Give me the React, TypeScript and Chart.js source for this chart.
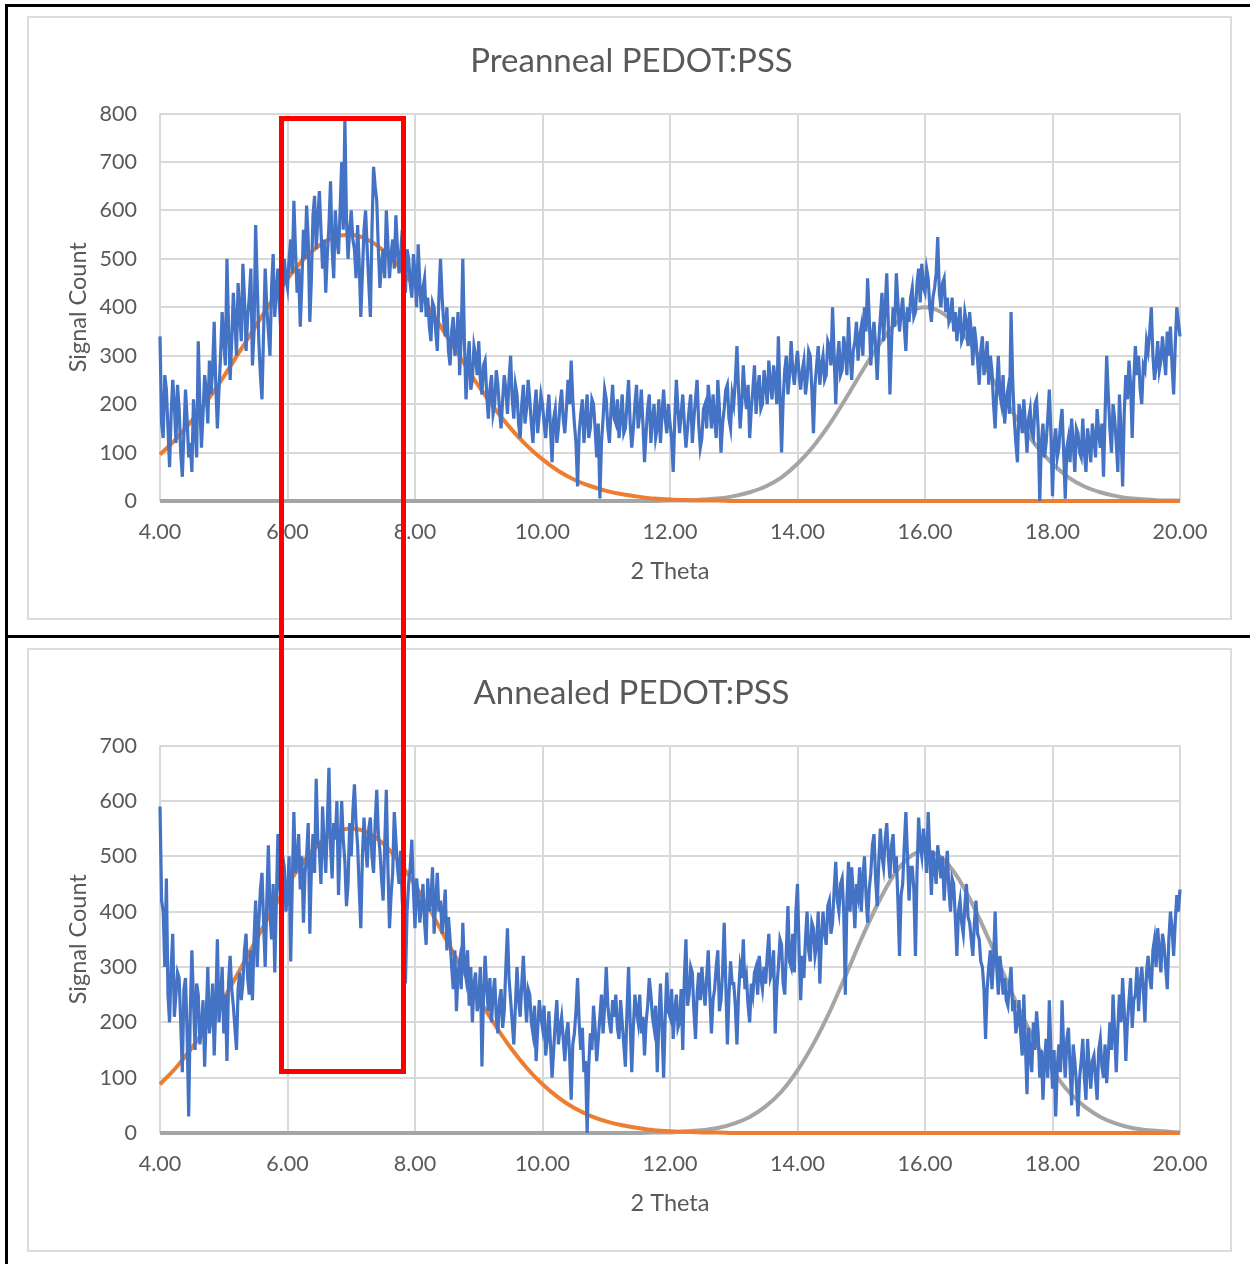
import { useEffect, useRef } from "react";
import { Chart, registerables } from "chart.js";

Chart.register(...registerables);

// 2-theta sampling of the diffraction scans (4.000 .. 20.000)
const THETA_START = 4;
const THETA_STEP = 0.025;
// sampling of the two Gaussian fit curves
const FIT_STEP = 0.25;

const X_MIN = 4;
const X_MAX = 20;
const X_TICK_STEP = 2;
const Y_TICK_STEP = 100;

// Preanneal PEDOT:PSS – measured signal count (one row per degree)
const preannealCounts = [
  340, 160, 130, 260, 230, 150, 70, 180, 250, 200, 120, 240, 190, 100, 50, 140, 230, 170, 90, 120, 60, 210, 150, 90, 330, 200, 110, 180, 260, 230, 160, 290, 220, 270, 370, 240, 150, 230, 300, 390,
  330, 280, 500, 360, 250, 330, 430, 370, 300, 450, 390, 330, 490, 420, 310, 380, 420, 480, 280, 350, 570, 450, 330, 260, 210, 350, 480, 400, 350, 300, 440, 510, 380, 430, 480, 400, 340, 430, 500, 460,
  440, 500, 540, 470, 620, 520, 430, 480, 360, 450, 560, 500, 610, 540, 370, 460, 590, 630, 520, 580, 640, 560, 480, 540, 430, 510, 570, 660, 520, 460, 600, 540, 510, 600, 700, 560, 790, 580, 500, 560,
  600, 540, 520, 460, 570, 490, 380, 470, 560, 600, 520, 450, 380, 560, 690, 650, 620, 520, 440, 490, 520, 460, 600, 530, 460, 510, 540, 480, 590, 520, 470, 510, 560, 490, 430, 520, 500, 450, 420, 510,
  470, 400, 530, 450, 390, 440, 460, 380, 420, 360, 330, 410, 400, 350, 310, 420, 500, 420, 370, 340, 400, 310, 280, 350, 380, 300, 330, 390, 260, 340, 500, 330, 210, 280, 330, 230, 250, 320, 300, 260,
  330, 250, 220, 280, 290, 220, 170, 230, 260, 180, 200, 270, 240, 190, 150, 210, 260, 230, 180, 250, 300, 210, 170, 240, 220, 160, 130, 200, 240, 160, 190, 250, 210, 160, 120, 190, 230, 140, 180, 220,
  200, 160, 130, 180, 220, 150, 80, 170, 190, 120, 150, 200, 230, 170, 140, 190, 250, 200, 290, 210, 160, 120, 30, 140, 180, 210, 120, 170, 220, 130, 150, 210, 200, 150, 90, 160, 5, 120, 170, 230,
  210, 150, 120, 190, 240, 170, 160, 210, 130, 170, 220, 140, 150, 200, 250, 160, 110, 150, 200, 240, 150, 180, 230, 160, 80, 140, 190, 220, 120, 170, 200, 130, 150, 210, 120, 180, 230, 170, 140, 200,
  160, 130, 60, 170, 250, 190, 140, 180, 220, 160, 110, 150, 190, 220, 120, 170, 210, 250, 160, 110, 130, 190, 200, 150, 240, 200, 150, 220, 170, 130, 250, 190, 100, 160, 190, 230, 240, 170, 150, 220,
  200, 250, 320, 230, 150, 200, 280, 220, 190, 240, 130, 190, 230, 280, 180, 230, 260, 190, 200, 270, 240, 200, 290, 240, 210, 280, 250, 200, 340, 220, 100, 210, 270, 300, 220, 260, 330, 270, 240, 280,
  310, 260, 230, 270, 290, 220, 250, 310, 300, 230, 140, 240, 280, 320, 240, 280, 300, 250, 260, 330, 320, 280, 400, 300, 200, 290, 330, 260, 270, 340, 310, 260, 380, 300, 250, 310, 330, 370, 290, 340,
  360, 300, 400, 350, 460, 380, 280, 340, 370, 320, 250, 330, 380, 430, 330, 400, 470, 360, 220, 330, 400, 360, 470, 410, 350, 390, 420, 360, 310, 400, 370, 420, 440, 380, 390, 450, 480, 410, 490, 440,
  430, 480, 460, 400, 370, 420, 440, 470, 545, 430, 400, 450, 460, 390, 420, 370, 380, 420, 350, 390, 330, 370, 400, 330, 340, 390, 370, 320, 390, 350, 280, 360, 330, 290, 240, 310, 340, 260, 290, 330,
  240, 300, 270, 200, 150, 230, 300, 220, 200, 260, 160, 210, 230, 180, 390, 250, 170, 120, 80, 200, 180, 140, 210, 160, 100, 170, 190, 140, 130, 200, 210, 150, 0, 120, 160, 90, 120, 170, 230, 140,
  10, 120, 150, 90, 110, 160, 190, 100, 5, 110, 130, 80, 170, 120, 60, 150, 140, 100, 90, 170, 100, 60, 150, 120, 80, 160, 130, 90, 190, 140, 110, 160, 50, 180, 300, 220, 150, 100, 200, 170,
  120, 60, 220, 140, 30, 180, 260, 210, 290, 240, 130, 250, 320, 260, 300, 230, 200, 280, 270, 330, 310, 350, 400, 300, 250, 280, 330, 270, 290, 340, 300, 260, 350, 300, 360, 280, 220, 320, 400, 370,
  340,
];

// Preanneal fits: low-angle peak (~7°) and high-angle peak (~16°)
const preannealFitLow = [
  96, 128, 166, 209, 257, 309, 361, 412, 459, 499, 528, 546, 550, 540, 518, 484,
  441, 392, 340, 288, 237, 191, 150, 115, 86, 62, 44, 31, 21, 14, 9, 5,
  3, 2, 1, 1, 0, 0, 0, 0, 0, 0, 0, 0, 0, 0, 0, 0,
  0, 0, 0, 0, 0, 0, 0, 0, 0, 0, 0, 0, 0, 0, 0, 0,
  0,
];
const preannealFitHigh = [
  0, 0, 0, 0, 0, 0, 0, 0, 0, 0, 0, 0, 0, 0, 0, 0,
  0, 0, 0, 0, 0, 0, 0, 0, 0, 0, 0, 0, 0, 0, 0, 0,
  1, 1, 3, 5, 10, 18, 30, 49, 77, 113, 158, 210, 265, 317, 361, 390,
  400, 390, 361, 317, 265, 210, 158, 113, 77, 49, 30, 18, 10, 5, 3, 1,
  1,
];

// Annealed PEDOT:PSS – measured signal count (one row per degree)
const annealedCounts = [
  590, 420, 400, 300, 460, 250, 200, 300, 360, 210, 250, 290, 280, 200, 110, 260, 280, 180, 30, 220, 330, 240, 150, 270, 250, 160, 190, 240, 120, 210, 300, 180, 210, 270, 140, 230, 350, 200, 240, 300,
  180, 250, 130, 270, 320, 260, 230, 190, 150, 260, 290, 240, 270, 330, 360, 280, 250, 330, 240, 350, 420, 300, 380, 440, 470, 380, 300, 420, 520, 400, 350, 450, 290, 420, 540, 450, 410, 500, 480, 400,
  430, 500, 310, 450, 580, 470, 490, 540, 440, 500, 380, 470, 500, 560, 360, 480, 540, 470, 640, 530, 510, 450, 590, 520, 470, 560, 660, 520, 460, 560, 530, 600, 430, 520, 600, 530, 490, 410, 450, 560,
  500, 580, 630, 560, 520, 440, 370, 500, 570, 520, 480, 550, 570, 500, 470, 560, 620, 540, 510, 460, 420, 520, 620, 480, 370, 430, 470, 580, 530, 480, 450, 510, 420, 380, 270, 400, 450, 480, 530, 440,
  370, 460, 430, 380, 410, 450, 380, 340, 460, 400, 420, 480, 360, 420, 470, 400, 420, 360, 400, 440, 330, 390, 350, 300, 260, 330, 220, 290, 310, 260, 380, 300, 280, 330, 230, 300, 200, 270, 290, 220,
  240, 300, 120, 250, 320, 260, 220, 280, 200, 250, 280, 210, 180, 240, 260, 190, 220, 300, 370, 280, 240, 200, 160, 230, 300, 240, 210, 270, 320, 250, 200, 260, 250, 200, 180, 230, 130, 190, 240, 210,
  190, 230, 140, 170, 220, 160, 100, 150, 200, 240, 160, 190, 210, 170, 130, 180, 200, 140, 60, 160, 180, 220, 280, 200, 150, 190, 110, 130, 0, 120, 180, 150, 230, 190, 130, 170, 210, 250, 180, 230,
  300, 230, 200, 180, 240, 210, 250, 190, 170, 240, 200, 160, 120, 220, 300, 200, 110, 190, 250, 220, 200, 250, 180, 210, 140, 200, 230, 280, 250, 210, 190, 230, 110, 200, 270, 190, 100, 210, 290, 220,
  210, 260, 170, 220, 250, 190, 200, 260, 150, 280, 350, 230, 250, 300, 290, 220, 170, 250, 290, 240, 300, 260, 230, 280, 330, 250, 180, 240, 260, 300, 330, 220, 240, 290, 380, 270, 160, 250, 310, 270,
  270, 230, 160, 250, 300, 280, 350, 260, 280, 230, 200, 270, 250, 290, 300, 250, 320, 280, 260, 300, 270, 320, 360, 280, 290, 330, 180, 260, 300, 350, 340, 270, 250, 330, 410, 310, 300, 360, 290, 400,
  450, 330, 240, 320, 280, 350, 400, 330, 310, 380, 370, 320, 340, 400, 270, 350, 400, 360, 340, 410, 420, 360, 380, 440, 490, 420, 400, 450, 460, 400, 250, 420, 490, 400, 480, 430, 370, 450, 430, 480,
  400, 460, 500, 430, 380, 440, 470, 520, 540, 460, 410, 490, 550, 500, 480, 530, 560, 500, 460, 520, 540, 470, 500, 420, 320, 430, 450, 520, 580, 500, 420, 480, 480, 440, 320, 470, 570, 520, 500, 550,
  520, 470, 580, 500, 430, 510, 480, 450, 520, 490, 460, 500, 420, 470, 510, 440, 400, 460, 450, 390, 320, 400, 420, 380, 360, 410, 450, 390, 380, 350, 320, 380, 420, 360, 350, 310, 300, 260, 170, 260,
  300, 330, 260, 310, 400, 300, 250, 320, 290, 250, 280, 240, 230, 270, 300, 220, 240, 180, 200, 240, 180, 140, 250, 160, 70, 190, 140, 110, 200, 150, 220, 180, 100, 150, 60, 130, 170, 100, 240, 150,
  80, 150, 30, 120, 160, 110, 240, 150, 100, 170, 190, 120, 50, 160, 130, 90, 30, 100, 130, 170, 100, 60, 170, 120, 80, 130, 140, 100, 60, 150, 170, 120, 100, 160, 90, 140, 200, 150, 250, 180,
  110, 190, 250, 200, 280, 220, 130, 200, 240, 280, 190, 240, 250, 300, 220, 270, 300, 260, 200, 290, 320, 280, 260, 330, 350, 300, 370, 330, 290, 360, 340, 300, 260, 350, 400, 370, 320, 380, 430, 400,
  440,
];

// Annealed fits
const annealedFitLow = [
  88, 118, 154, 196, 243, 294, 347, 400, 448, 490, 523, 543, 550, 543, 523, 490,
  448, 400, 347, 294, 243, 196, 154, 118, 88, 64, 45, 31, 21, 14, 9, 5,
  3, 2, 1, 1, 0, 0, 0, 0, 0, 0, 0, 0, 0, 0, 0, 0,
  0, 0, 0, 0, 0, 0, 0, 0, 0, 0, 0, 0, 0, 0, 0, 0,
  0,
];
const annealedFitHigh = [
  0, 0, 0, 0, 0, 0, 0, 0, 0, 0, 0, 0, 0, 0, 0, 0,
  0, 0, 0, 0, 0, 0, 0, 0, 0, 0, 0, 0, 0, 0, 0, 1,
  1, 3, 5, 9, 17, 29, 48, 75, 113, 161, 218, 283, 350, 412, 464, 498,
  510, 498, 464, 412, 350, 283, 218, 161, 113, 75, 48, 29, 17, 9, 5, 3,
  1,
];

const FONT = "Lato, 'Open Sans', sans-serif";
const TEXT_COLOR = "#595959";
const GRID_COLOR = "#d9d9d9";

const toPoints = (values: number[], start: number, step: number) =>
  values.map((y, i) => ({ x: Math.round((start + i * step) * 1000) / 1000, y }));

type PanelProps = {
  top: number;
  title: string;
  counts: number[];
  fitLow: number[];
  fitHigh: number[];
  yMax: number;
};

function XrdPanel({ top, title, counts, fitLow, fitHigh, yMax }: PanelProps) {
  const canvasRef = useRef<HTMLCanvasElement | null>(null);

  useEffect(() => {
    const canvas = canvasRef.current;
    if (!canvas) return;
    const tickFont = { family: FONT, size: 21.5 };
    const axisTitleFont = { family: FONT, size: 23.5 };
    const chart = new Chart(canvas, {
      type: "line",
      data: {
        datasets: [
          {
            label: "Signal Count",
            data: toPoints(counts, THETA_START, THETA_STEP),
            borderColor: "#4472C4",
            borderWidth: 3.2,
            pointRadius: 0,
            tension: 0,
            clip: false,
          },
          {
            label: "Fit 1",
            data: toPoints(fitLow, THETA_START, FIT_STEP),
            borderColor: "#ED7D31",
            borderWidth: 4,
            pointRadius: 0,
            cubicInterpolationMode: "monotone",
            clip: false,
          },
          {
            label: "Fit 2",
            data: toPoints(fitHigh, THETA_START, FIT_STEP),
            borderColor: "#A5A5A5",
            borderWidth: 4,
            pointRadius: 0,
            cubicInterpolationMode: "monotone",
            clip: false,
          },
        ],
      },
      options: {
        responsive: false,
        animation: false,
        events: [],
        layout: { padding: { left: 56, right: 52, top: 0, bottom: 0 } },
        plugins: {
          legend: { display: false },
          tooltip: { enabled: false },
          title: {
            display: true,
            text: title,
            color: TEXT_COLOR,
            font: { family: FONT, size: 33, weight: "normal" },
            padding: { top: 26, bottom: 32 },
          },
        },
        scales: {
          x: {
            type: "linear",
            min: X_MIN,
            max: X_MAX,
            ticks: {
              stepSize: X_TICK_STEP,
              maxRotation: 0,
              autoSkip: false,
              color: TEXT_COLOR,
              font: tickFont,
              padding: 18,
              callback: (v: any) => Number(v).toFixed(2),
            },
            grid: { color: GRID_COLOR, lineWidth: 2, drawTicks: false },
            border: { display: false },
            title: {
              display: true,
              text: "2 Theta",
              color: TEXT_COLOR,
              font: axisTitleFont,
              padding: { top: 0, bottom: 34 },
            },
            afterFit: (scale: any) => {
              scale.height = 119;
            },
          },
          y: {
            min: 0,
            max: yMax,
            ticks: {
              stepSize: Y_TICK_STEP,
              color: TEXT_COLOR,
              font: tickFont,
              padding: 23,
            },
            grid: { color: GRID_COLOR, lineWidth: 2, drawTicks: false },
            border: { display: false },
            title: {
              display: true,
              text: "Signal Count",
              color: TEXT_COLOR,
              font: axisTitleFont,
              padding: { top: -19, bottom: 0 },
            },
            afterFit: (scale: any) => {
              scale.width = 77;
            },
          },
        },
      } as any,
    });
    return () => chart.destroy();
  }, [title, counts, fitLow, fitHigh, yMax]);

  return (
    <>
      <div
        style={{
          position: "absolute",
          left: 27,
          top,
          width: 1205,
          height: 604,
          border: "2px solid #dcdcdc",
          boxSizing: "border-box",
          background: "#fff",
        }}
      />
      <canvas
        ref={canvasRef}
        width={1205}
        height={604}
        style={{ position: "absolute", left: 27, top, width: 1205, height: 604 }}
      />
    </>
  );
}

export default function App() {
  return (
    <div
      style={{
        position: "absolute",
        left: 0,
        top: 0,
        width: 1250,
        height: 1264,
        background: "#fff",
        overflow: "hidden",
      }}
    >
      <XrdPanel
        top={16}
        title="Preanneal PEDOT:PSS"
        counts={preannealCounts}
        fitLow={preannealFitLow}
        fitHigh={preannealFitHigh}
        yMax={800}
      />
      <XrdPanel
        top={648}
        title="Annealed PEDOT:PSS"
        counts={annealedCounts}
        fitLow={annealedFitLow}
        fitHigh={annealedFitHigh}
        yMax={700}
      />
      {/* frame lines */}
      <div style={{ position: "absolute", left: 5, top: 4, width: 3, height: 1260, background: "#000" }} />
      <div style={{ position: "absolute", left: 5, top: 4, width: 1245, height: 3, background: "#000" }} />
      <div style={{ position: "absolute", left: 5, top: 635, width: 1245, height: 3, background: "#000" }} />
      {/* highlighted 6–8° region spanning both scans */}
      <div
        style={{
          position: "absolute",
          left: 279,
          top: 116,
          width: 127,
          height: 958,
          border: "5px solid #ff0000",
          boxSizing: "border-box",
        }}
      />
    </div>
  );
}
